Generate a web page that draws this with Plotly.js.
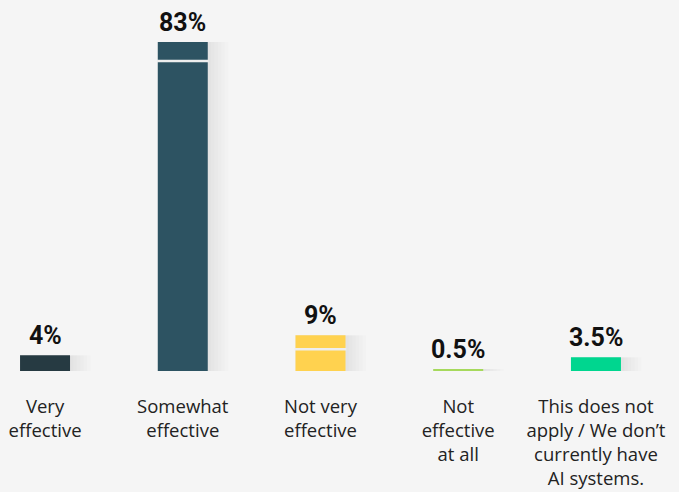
<!DOCTYPE html>
<html>
<head>
<meta charset="utf-8">
<script src="https://cdn.plot.ly/plotly-3.0.1.min.js"></script>
<style>html,body{margin:0;padding:0;background:#f5f5f5;}#chart{width:679px;height:492px;}</style>
</head>
<body>
<div id="chart"></div>
<script>
var categories = ["Very<br>effective", "Somewhat<br>effective", "Not very<br>effective", "Not<br>effective<br>at all", "This does not<br>apply / We don\u2019t<br>currently have<br>AI systems."];
var values = [4, 83, 9, 0.5, 3.5];
var valueLabels = ["4%", "83%", "9%", "0.5%", "3.5%"];
var markerLine = [null, 78.2, 5.5, null, null];
var barColors = ["#263a42", "#2d5362", "#ffd24f", "#a6d95c", "#00d68f"];

var bw = 0.363;
var traces = [];
// soft shadows
[0.15, 0.125, 0.10, 0.075, 0.05, 0.025].forEach(function (extra) {
  traces.push({
    type: "bar", x: categories, y: values,
    width: bw + extra, offset: -bw / 2,
    marker: {color: "rgba(0,0,0,0.011)"},
    hoverinfo: "skip", showlegend: false
  });
});
traces.push({
  type: "bar", x: categories, y: values,
  width: bw, offset: -bw / 2,
  marker: {color: barColors},
  showlegend: false
});
traces.push({
  type: "scatter", mode: "markers", x: categories, y: markerLine,
  marker: {symbol: "line-ew", size: 37, color: "#eeeeee", line: {color: "#eeeeee", width: 2.5}},
  showlegend: false, hoverinfo: "skip", cliponaxis: false
});

var annotations = categories.map(function (c, i) {
  return {
    x: c, y: values[i], xref: "x", yref: "y",
    text: valueLabels[i], showarrow: false,
    yanchor: "bottom", yshift: 3,
    font: {family: "Roboto", size: 25, color: "#111111", weight: 700}
  };
});

var layout = {
  width: 679, height: 492,
  paper_bgcolor: "#f5f5f5", plot_bgcolor: "#f5f5f5",
  margin: {l: 0, r: 0, t: 0, b: 121},
  barmode: "overlay",
  xaxis: {
    type: "category", range: [-0.327, 4.603],
    showgrid: false, zeroline: false, showline: false, ticks: "",
    ticklabelstandoff: 22,
    tickfont: {family: "Open Sans", size: 18.5, color: "#222222"}
  },
  yaxis: {
    range: [0, 93.6], visible: false, showgrid: false, zeroline: false
  },
  annotations: annotations
};

Plotly.newPlot("chart", traces, layout, {displayModeBar: false, staticPlot: true});
</script>
</body>
</html>
